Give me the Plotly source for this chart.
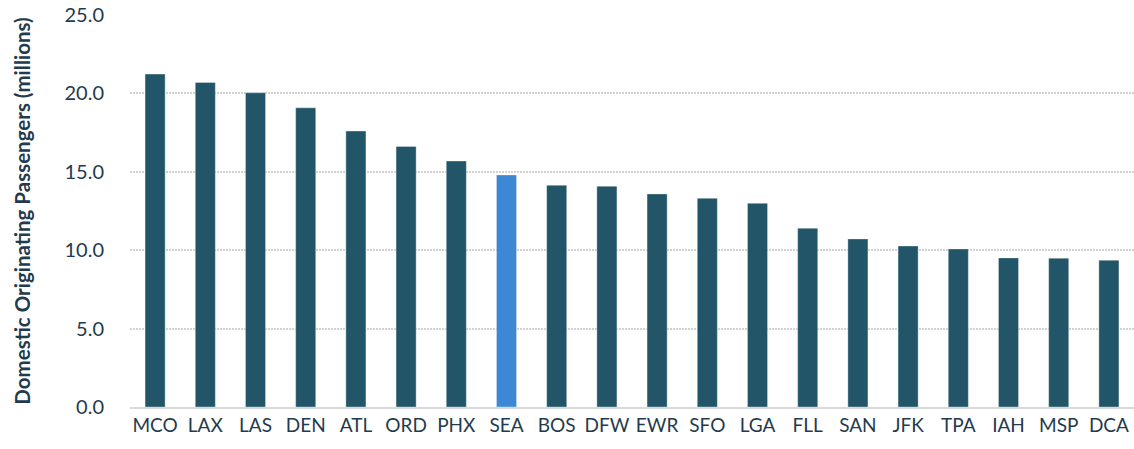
import plotly.graph_objects as go

airports = ['MCO', 'LAX', 'LAS', 'DEN', 'ATL', 'ORD', 'PHX', 'SEA', 'BOS', 'DFW',
            'EWR', 'SFO', 'LGA', 'FLL', 'SAN', 'JFK', 'TPA', 'IAH', 'MSP', 'DCA']
passengers = [21.23, 20.70, 20.04, 19.08, 17.60, 16.62, 15.69, 14.80, 14.14, 14.08,
              13.59, 13.31, 12.99, 11.40, 10.72, 10.27, 10.08, 9.51, 9.49, 9.36]
highlight = 'SEA'

dark = '#215567'
blue = '#3D88D4'
colors = [blue if a == highlight else dark for a in airports]

fig = go.Figure()
fig.add_trace(go.Bar(
    x=airports, y=passengers,
    marker=dict(color=colors, line=dict(color='rgba(255,255,255,0.35)', width=1)),
    width=0.4,
))

fig.update_layout(
    width=1134, height=449,
    margin=dict(l=130, r=0, t=15, b=42),
    plot_bgcolor='white', paper_bgcolor='white',
    font=dict(family='Lato, Open Sans, sans-serif', color='#1f3b4d', size=19),
    showlegend=False,
    bargap=0.6,
)
fig.update_xaxes(
    showline=True, linecolor='#d9d9d9', linewidth=2,
    ticks='', tickfont=dict(size=19),
)
fig.update_yaxes(
    range=[0, 25], dtick=5, tickformat='.1f',
    showgrid=True, gridcolor='#d2d2d2', griddash='1.5px,1.5px', gridwidth=1.5,
    zeroline=False, ticklabelstandoff=25,
    tickfont=dict(size=20),
    title=dict(text='<b>Domestic Originating Passengers (millions)</b>',
               font=dict(size=20.5), standoff=28),
)

# drop the default page margin so the figure sits at the window's corner
fig.write_html("out.html", config={'displayModeBar': False},
               post_script="document.body.style.margin='0';")
